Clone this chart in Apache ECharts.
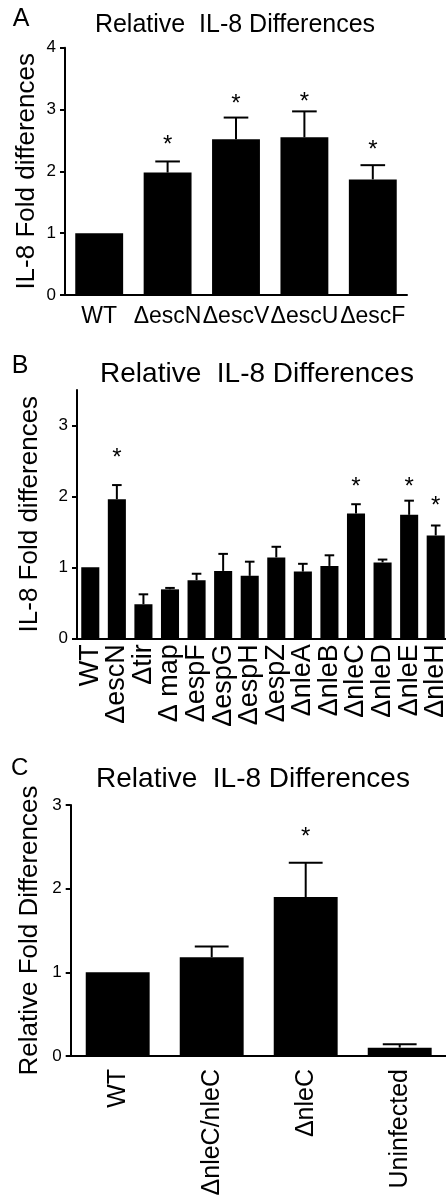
<!DOCTYPE html>
<html>
<head>
<meta charset="utf-8">
<script src="https://cdn.jsdelivr.net/npm/echarts@6/dist/echarts.min.js"></script>
<style>
  html, body { margin: 0; padding: 0; background: #fff; }
  #chart { width: 446px; height: 1196px; }
</style>
</head>
<body>
<div id="chart"></div>
<script>
// panel A
var catsA = ['WT', 'ΔescN', 'ΔescV', 'ΔescU', 'ΔescF']
var meanA = [1.0, 1.98, 2.52, 2.55, 1.87]
var errTopA = [1.0, 2.16, 2.87, 2.97, 2.10]
var starA = [null, 2.49, 3.15, 3.18, 2.41]
var ticksA = [0, 1, 2, 3, 4]

// panel B
var catsB = ['WT', 'ΔescN', 'Δtir', 'Δ map', 'ΔespF', 'ΔespG', 'ΔespH', 'ΔespZ', 'ΔnleA', 'ΔnleB', 'ΔnleC', 'ΔnleD', 'ΔnleE', 'ΔnleH']
var meanB = [1.0, 1.96, 0.48, 0.69, 0.82, 0.95, 0.88, 1.14, 0.94, 1.02, 1.76, 1.07, 1.74, 1.45]
var errTopB = [1.0, 2.16, 0.62, 0.71, 0.91, 1.19, 1.08, 1.29, 1.05, 1.17, 1.89, 1.11, 1.94, 1.59]
var starB = [null, 2.59, null, null, null, null, null, null, null, null, 2.18, null, 2.19, 1.91]
var ticksB = [0, 1, 2, 3]

// panel C
var catsC = ['WT', 'ΔnleC/nleC', 'ΔnleC', 'Uninfected']
var meanC = [1.0, 1.18, 1.90, 0.10]
var errTopC = [1.0, 1.31, 2.31, 0.14]
var starC = [null, null, 2.66, null]
var ticksC = [0, 1, 2, 3]

var FONT = 'Liberation Sans, Arial, sans-serif'

function errorBar(params, api) {
  var x = api.value(0)
  var m = api.value(1)
  var t = api.value(2)
  if (t <= m) {
    return
  }
  var p0 = api.coord([x, m])
  var p1 = api.coord([x, t])
  var half = api.size([1, 0])[0] * 0.18
  var st = { stroke: '#000', lineWidth: 2 }
  return {
    type: 'group',
    children: [
      { type: 'line', shape: { x1: p0[0], y1: p0[1], x2: p1[0], y2: p1[1] }, style: st },
      { type: 'line', shape: { x1: p1[0] - half, y1: p1[1], x2: p1[0] + half, y2: p1[1] }, style: st }
    ]
  }
}

// asterisk glyph sits high in its box, so nudge it down a little
function star(params, api) {
  var p = api.coord([api.value(0), api.value(1)])
  return {
    type: 'text',
    x: p[0],
    y: p[1] + 4,
    style: { text: '*', font: '24px ' + FONT, fill: '#000', textAlign: 'center', textVerticalAlign: 'middle' }
  }
}

function xAxis(idx, cats, fontSize, rotate, margin) {
  return {
    type: 'category',
    gridIndex: idx,
    data: cats,
    axisLine: { lineStyle: { color: '#000', width: 2 } },
    axisTick: { alignWithLabel: true, length: 6, lineStyle: { color: '#000', width: 2 } },
    axisLabel: { interval: 0, rotate: rotate, margin: margin, color: '#000', fontFamily: FONT, fontSize: fontSize }
  }
}

function yAxis(idx, max, ticks, name, gap) {
  return {
    type: 'value',
    gridIndex: idx,
    min: 0,
    max: max,
    interval: 1,
    name: name,
    nameLocation: 'middle',
    nameGap: gap,
    nameMoveOverlap: false,
    nameTextStyle: { color: '#000', fontFamily: FONT, fontSize: 26 },
    splitLine: { show: false },
    axisLine: { show: true, lineStyle: { color: '#000', width: 2 } },
    axisTick: { show: true, length: 5, customValues: ticks, lineStyle: { color: '#000', width: 2 } },
    axisLabel: { margin: 9, customValues: ticks, color: '#000', fontFamily: FONT, fontSize: 17 }
  }
}

function rows(mean, top) {
  return mean.map(function (m, i) { return [i, m, top[i]] })
}

function stars(s) {
  var out = []
  s.forEach(function (v, i) {
    if (v != null) out.push([i, v])
  })
  return out
}

var chart = echarts.init(document.getElementById('chart'))

chart.setOption({
  animation: false,
  grid: [
    { left: 65, top: 47.7, width: 342, height: 247.3, outerBoundsMode: 'none' },
    { left: 77, top: 390, width: 372, height: 248.3, outerBoundsMode: 'none' },
    { left: 70.7, top: 805, width: 376, height: 251, outerBoundsMode: 'none' }
  ],
  xAxis: [
    xAxis(0, catsA, 23, 0, 10),
    xAxis(1, catsB, 27, 90, 6),
    xAxis(2, catsC, 25, 90, 13)
  ],
  yAxis: [
    yAxis(0, 4, ticksA, 'IL-8 Fold differences', 25),
    yAxis(1, 3.5, ticksB, 'IL-8 Fold differences', 34),
    yAxis(2, 3, ticksC, 'Relative Fold Differences', 28)
  ],
  graphic: [
    { type: 'text', x: 12.7, y: 19, style: { text: 'A', font: '25px ' + FONT, fill: '#000', textVerticalAlign: 'middle' } },
    { type: 'text', x: 235, y: 25.5, style: { text: 'Relative  IL-8 Differences', font: '25px ' + FONT, fill: '#000', textAlign: 'center', textVerticalAlign: 'middle' } },
    { type: 'text', x: 11.7, y: 366.5, style: { text: 'B', font: '25px ' + FONT, fill: '#000', textVerticalAlign: 'middle' } },
    { type: 'text', x: 257, y: 374, style: { text: 'Relative  IL-8 Differences', font: '28px ' + FONT, fill: '#000', textAlign: 'center', textVerticalAlign: 'middle' } },
    { type: 'text', x: 11, y: 768.5, style: { text: 'C', font: '24px ' + FONT, fill: '#000', textVerticalAlign: 'middle' } },
    { type: 'text', x: 253, y: 779, style: { text: 'Relative  IL-8 Differences', font: '28px ' + FONT, fill: '#000', textAlign: 'center', textVerticalAlign: 'middle' } }
  ],
  series: [
    { type: 'bar', xAxisIndex: 0, yAxisIndex: 0, data: meanA, barWidth: '70%', itemStyle: { color: '#000' } },
    { type: 'custom', xAxisIndex: 0, yAxisIndex: 0, data: rows(meanA, errTopA), renderItem: errorBar, z: 3 },
    { type: 'custom', xAxisIndex: 0, yAxisIndex: 0, data: stars(starA), renderItem: star },

    { type: 'bar', xAxisIndex: 1, yAxisIndex: 1, data: meanB, barWidth: '68%', itemStyle: { color: '#000' } },
    { type: 'custom', xAxisIndex: 1, yAxisIndex: 1, data: rows(meanB, errTopB), renderItem: errorBar, z: 3 },
    { type: 'custom', xAxisIndex: 1, yAxisIndex: 1, data: stars(starB), renderItem: star },

    { type: 'bar', xAxisIndex: 2, yAxisIndex: 2, data: meanC, barWidth: '68%', itemStyle: { color: '#000' } },
    { type: 'custom', xAxisIndex: 2, yAxisIndex: 2, data: rows(meanC, errTopC), renderItem: errorBar, z: 3 },
    { type: 'custom', xAxisIndex: 2, yAxisIndex: 2, data: stars(starC), renderItem: star }
  ]
})
</script>
</body>
</html>
